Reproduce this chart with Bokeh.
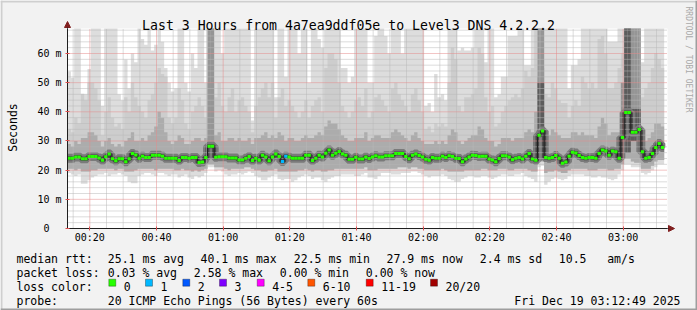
import numpy as np
from bokeh.plotting import figure
from bokeh.models import FixedTicker, Range1d, Label, Arrow, NormalHead, BoxAnnotation
from bokeh.embed import file_html
from bokeh.resources import INLINE

# ---------------- data (1-minute steps) ----------------
start_minute = 13.3          # first step starts at 00:13:18
median_ms = [24.1,24.1,24.5,24.5,23.9,23.9,24.7,24.7,24.7,24.2,
             23.4,24.6,25.5,23.9,23.2,23.9,23.9,22.9,23.9,25.7,
             25.2,24.1,24.8,24.3,24.3,25.1,25.1,25.1,24.8,24.1,
             24.1,24.1,24.1,23.3,24.3,24.3,24.1,24.3,24.3,22.6,
             22.8,24.3,28.2,28.2,24.4,24.6,24.6,24.6,24.2,24.2,
             24.2,23.5,23.5,24.1,24.7,23.3,24.1,23.4,25.1,24.5,
             23.2,24.5,25.5,24.7,23.0,24.8,24.5,24.1,24.1,24.1,
             24.1,25.1,25.1,23.3,24.1,25.1,24.5,25.8,26.9,25.1,
             25.8,26.4,25.5,25.1,23.7,23.7,24.4,23.8,23.8,24.5,
             24.0,24.5,24.9,24.5,24.5,24.9,24.9,24.9,25.7,25.7,
             25.7,24.7,23.9,25.1,25.5,25.0,24.5,23.7,23.4,24.3,
             24.1,24.1,24.8,24.3,24.9,24.7,24.1,24.0,22.9,23.8,
             24.5,25.1,25.0,24.7,24.8,24.8,23.8,23.5,22.9,24.0,
             24.9,24.9,24.5,23.6,24.1,24.3,23.8,24.8,25.7,23.8,
             23.4,32.0,33.4,24.3,24.1,24.3,25.0,24.1,22.4,22.8,
             24.8,26.1,25.9,25.0,24.3,24.1,24.3,24.3,24.1,25.7,
             26.9,26.6,25.1,26.6,26.3,24.1,31.2,39.8,39.8,33.0,
             33.0,33.9,26.3,24.1,24.3,25.7,27.8,29.1,27.8]
ping_max_ms = [53.8,51.7,69,69,46.2,46,54.7,69,69,69,
               42,69,69,69,69,46,44,57.9,48,60,
               57,69,65,63,69,61,63,69,64,55,
               50,47,48,69,69,50,47,60,55,69,
               69,50,69,69,69,69,60,69,69,69,
               69,69,69,69,69,37,69,69,69,69,
               69,69,45,69,69,52,69,69,69,60,
               69,69,50,69,69,65,62,69,69,69,
               69,69,55,55,50,52,69,69,69,69,
               50,50,66,69,69,66,60,69,69,69,
               60,69,69,69,69,69,69,42,43,40,
               53,45,46,44,69,69,69,61,62,61,
               61,62,69,69,69,57,69,69,45,46,
               52,52,66,66,66,69,69,56,56,69,
               69,69,69,69,69,69,69,69,69,69,
               48,56,56,58,69,69,69,69,69,69,
               69,69,64,64,64,69,69,69,69,69,
               69,69,57,69,69,69,69,69,69]
ping_p17_ms = [34,33,38,36,46,44,50,50,48,44,
               32,40,45,38,35,36,34,45,40,50,
               45,42,40,38,44,46,50,55,53,52,
               38,36,38,48,44,36,34,40,42,45,
               42,38,69,69,45,50,42,40,45,48,
               40,44,45,42,40,33,42,45,48,50,
               45,50,38,45,48,42,44,42,40,38,
               40,44,38,42,44,45,40,55,60,60,
               58,50,42,40,38,40,44,45,42,48,
               38,40,45,46,44,42,40,48,50,46,
               44,42,40,46,48,44,40,34,35,33,
               36,35,36,35,50,62,58,42,40,45,
               45,46,48,62,60,45,40,42,35,36,
               40,42,44,45,46,45,48,54,52,55,
               69,69,69,46,45,50,48,44,43,43,
               38,42,44,42,52,50,48,50,48,65,
               66,60,48,48,50,55,60,69,69,69,
               69,69,45,48,50,55,60,58,55]
ping_p14_ms = [29,28,30,29,31,31,33,33,32,30,
               28,30,31,29,28,29,28,30,31,33,
               30,30,31,30,32,33,35,40,38,33,
               30,29,30,32,31,29,29,30,31,31,
               30,31,50,50,32,33,30,30,31,31,
               30,31,30,30,31,29,31,31,32,33,
               31,32,31,33,32,30,31,31,30,30,
               31,32,31,31,32,33,32,35,37,36,
               36,34,32,31,30,30,31,31,31,33,
               30,31,32,32,31,31,31,33,34,33,
               32,31,30,32,33,31,30,29,29,29,
               30,29,30,29,32,34,33,30,29,30,
               31,32,32,35,34,31,30,30,28,29,
               31,31,31,30,31,31,31,33,34,33,
               40,52,55,33,32,34,33,32,31,31,
               31,33,33,32,33,32,32,32,31,35,
               38,36,32,33,33,33,40,69,69,50,
               50,48,32,30,31,33,36,36,35]
ping_min_ms = [19,18.5,18,18.5,15.3,15.3,16.5,17.5,18,18.5,
               18.5,19,18,18.5,18.5,19,18.5,18,16,15.5,
               15.5,18,18.5,19,19,18.5,18,19,19,18.5,
               18,18.5,18.5,17.5,18,18.5,17.5,17,18,17.5,
               18,19,21,21,19.5,20,19.5,18.5,18,18.5,
               18.5,19,18.5,19,19.5,19,18,17.5,16.5,16.5,
               17.5,18,18.5,17,16.5,17,17,16,16.5,17.5,
               18,18.5,18,17,17.5,17.5,16.5,16,17,17.5,
               18,18,18.5,18.5,18.5,18.5,18,18,18.5,19,
               17.5,17.5,17,18,19,19,19,18.5,18.5,18.5,
               19,19,19,19.5,19.5,19,18.5,18,17.5,18,
               18,18,18.5,18,17,16.5,16,16,17,17.5,
               18,18,17.5,17.5,18,18,17.5,17,17.5,18,
               18.5,18.5,18,18,18.5,18.5,19,18,17.5,17,
               16,21,21.5,15,16,17,17.5,17,16.5,17,
               18,18.5,18.5,18.5,18.5,18,18,17.5,17.5,18,
               17.5,17.5,17,16.5,17,18.5,20,22,22,21,
               21,21,19,18.5,19,20,21,22,22]
ping_p4_ms = [20.5,20.5,20,20.5,19.5,19.5,19.5,20,20,20.5,
              20.5,20.5,20.5,20.5,20,20.5,20.5,19.5,19.5,19.5,
              20,20.5,20.5,20.5,20.5,20.5,20,20.5,20.5,20.5,
              20.5,20.5,20,20,20.5,20,20,19.5,20,19.5,
              20,20.5,22,22,21,21,21,20.5,20,20.5,
              20.5,20.5,20.5,21,21,20.5,20,20,19.5,19.5,
              20,20,20.5,19.5,19.5,19.5,19.5,19.5,19.5,20,
              20,20.5,20,19.5,20,20,19.5,19.5,20,20,
              20.5,20.5,20.5,20.5,20.5,20.5,20.5,20.5,20.5,21,
              20,20,20,20.5,20.5,20.5,20.5,20.5,20.5,21,
              21,21,20.5,21,21,20.5,20.5,20,20,20,
              20,20,20.5,20,19.5,19.5,19.5,19.5,19.5,20,
              20,20,20,20,20.5,20.5,20,20,20,20.5,
              20.5,20.5,20,20,20.5,20.5,20.5,20.5,20,19.5,
              19.5,23,23,19,19.5,19.5,20,19.5,19,19,
              20,20.5,20.5,20.5,20.5,20.5,20,20,20,20.5,
              20.5,20.5,20,20,20.5,20.5,22,24,24,23,
              22.5,22.5,20.5,20.5,20.5,21.5,23,23.5,23.5]
# steps whose inner pings are spread wide (darker columns)
wide_steps = [42, 43, 141, 142, 166, 169, 170, 171]
wide_bottom_ms = [26, 26, 30, 31, 27, 30, 30, 30]
wide_top_ms = [69, 69, 69, 69, 50, 69, 69, 69]
dark_steps = [141, 142, 167, 168, 169, 170, 171]
dark_bottom_ms = [30, 31, 26, 26, 30, 30, 30]
dark_top_ms = [50, 50, 69, 69, 41, 41, 41]
lost_pings = [0,0,0,0,0,0,0,0,0,0, 0,0,0,0,0,0,0,0,0,0,
              0,0,0,0,0,0,0,0,0,0, 0,0,0,0,0,0,0,0,0,0,
              0,0,0,0,0,0,0,0,0,0, 0,0,0,0,0,0,0,0,0,0,
              0,0,0,0,1,1,0,0,0,0, 0,0,0,0,0,0,0,0,0,0,
              0,0,0,0,0,0,0,0,0,0, 0,0,0,0,0,0,0,0,0,0,
              0,0,0,0,0,0,0,0,0,0, 0,0,0,0,0,0,0,0,0,0,
              0,0,0,0,0,0,0,0,0,0, 0,0,0,0,0,0,0,0,0,0,
              0,0,0,0,0,0,0,0,0,0, 0,0,0,0,0,0,0,0,0,0,
              0,0,0,0,0,0,0,0,0,0, 0,0,0,0,0,0,0,0,0]
loss_labels = ["0", "1", "2", "3", "4-5", "6-10", "11-19", "20/20"]
loss_colors = ["#26ff00", "#00b8ff", "#0059ff", "#7e00ff", "#ff00ff", "#ff5500", "#ff0000", "#a10000"]
x_ticks = [20, 40, 60, 80, 100, 120, 140, 160, 180]
x_tick_labels = ["00:20", "00:40", "01:00", "01:20", "01:40", "02:00", "02:20", "02:40", "03:00"]
y_ticks = [0, 10, 20, 30, 40, 50, 60]
y_tick_labels = ["0\u00a0\u00a0", "10 m", "20 m", "30 m", "40 m", "50 m", "60 m"]
title_text = "Last 3 Hours from 4a7ea9ddf05e to Level3 DNS 4.2.2.2"

# ---------------- geometry ----------------
W, H = 697, 310
FL, FT, FW, FH = 67, 28, 600, 200          # data area inside the canvas
XMIN, XMAX = start_minute, start_minute + 180
YMIN, YMAX = 0, 68.57
MONO = "DejaVu Sans Mono"

def sx(px):
    return XMIN + (px - FL) * (XMAX - XMIN) / FW

def sy(py):
    return YMIN + (FT + FH - py) * (YMAX - YMIN) / FH

n = len(median_ms)
t0 = start_minute + np.arange(n)
t1 = t0 + 1
xs = np.append(t0, t1[-1])

def clip(a):
    return np.minimum(np.asarray(a, dtype=float), YMAX)

def ext(a):
    a = clip(a)
    return np.append(a, a[-1])

p = figure(width=W, height=H, output_backend="svg", toolbar_location=None,
           x_range=Range1d(sx(0), sx(W)), y_range=Range1d(sy(H), sy(0)), min_border=0)
p.background_fill_color = "#f2f2f2"
p.border_fill_color = "#f2f2f2"
p.outline_line_color = None
p.grid.visible = False

# canvas (white data area)
p.quad(left=[XMIN], right=[XMAX], bottom=[YMIN], top=[YMAX], fill_color="white", line_color=None)

# smoke
p.varea_step(x=xs, y1=ext(ping_min_ms), y2=ext(ping_max_ms), step_mode="after", fill_color="#dddddd")
p.varea_step(x=xs, y1=ext(ping_p4_ms), y2=ext(ping_p17_ms), step_mode="after", fill_color="#cdcdcd")
p.varea_step(x=xs, y1=ext(ping_p4_ms), y2=ext(ping_p14_ms), step_mode="after", fill_color="#acacac")
wide_left = start_minute + np.array(wide_steps)
p.quad(left=wide_left, right=wide_left + 1, bottom=wide_bottom_ms, top=clip(wide_top_ms),
       fill_color="#959595", line_color=None)
dark_left = start_minute + np.array(dark_steps)
p.quad(left=dark_left, right=dark_left + 1, bottom=dark_bottom_ms, top=clip(dark_top_ms),
       fill_color="#5c5c5c", line_color=None)
p.step(xs, ext(median_ms), mode="after", line_color="#7a7a7a", line_width=9)
p.step(xs, ext(median_ms), mode="after", line_color="#454545", line_width=4)

# grid (dotted, over the smoke)
minor_x = [m for m in range(15, 195, 5) if m % 20 and XMIN < m < XMAX]
minor_y = [v for v in range(2, 69, 2) if v % 10]
major_y = [v for v in y_ticks if v > 0]
p.segment(x0=minor_x, x1=minor_x, y0=YMIN, y1=YMAX, line_color="#b8b8b8", line_width=1, line_dash="1 1")
p.segment(x0=XMIN, x1=XMAX, y0=minor_y, y1=minor_y, line_color="#b8b8b8", line_width=1, line_dash="1 1")
p.segment(x0=x_ticks, x1=x_ticks, y0=YMIN, y1=YMAX, line_color="#e58a8a", line_width=1, line_dash="1 1")
p.segment(x0=XMIN, x1=XMAX, y0=major_y, y1=major_y, line_color="#e58a8a", line_width=1, line_dash="1 1")

# median line coloured by loss
p.step(xs, ext(median_ms), mode="after", line_color="#202020", line_width=1)
seg_colors = [loss_colors[k] for k in lost_pings]
p.segment(x0=t0, y0=median_ms, x1=t1, y1=median_ms, line_color=seg_colors, line_width=3)

# axes placed on the data area
p.xaxis.fixed_location = YMIN
p.xaxis.bounds = (XMIN, XMAX)
p.yaxis.fixed_location = XMIN
p.yaxis.bounds = (YMIN, YMAX)
p.xaxis.ticker = FixedTicker(ticks=x_ticks, minor_ticks=[])
p.xaxis.major_label_overrides = dict(zip(x_ticks, x_tick_labels))
p.yaxis.ticker = FixedTicker(ticks=y_ticks, minor_ticks=[])
p.yaxis.major_label_overrides = dict(zip(y_ticks, y_tick_labels))
for ax in (p.xaxis, p.yaxis):
    ax.axis_line_color = "#1f1f1f"
    ax.major_tick_line_color = "#de4f4f"
    ax.major_tick_in = 2
    ax.major_tick_out = 2
    ax.minor_tick_line_color = None
    ax.major_label_text_font = MONO
    ax.major_label_text_font_size = "10px"
    ax.major_label_text_color = "black"
p.xaxis.major_label_standoff = 1
p.yaxis.major_label_standoff = 4

# arrows
p.add_layout(Arrow(end=NormalHead(size=6, fill_color="#801f1f", line_color="#801f1f"),
                   x_start=XMAX, y_start=YMIN, x_end=sx(674), y_end=YMIN,
                   line_color="#1f1f1f", line_width=1))
p.add_layout(Arrow(end=NormalHead(size=6, fill_color="#801f1f", line_color="#801f1f"),
                   x_start=XMIN, y_start=YMAX, x_end=XMIN, y_end=sy(21),
                   line_color="#1f1f1f", line_width=1))

def label(px, py, text, size="11.5px", align="left", baseline="alphabetic", angle=0, color="black"):
    p.add_layout(Label(x=sx(px), y=sy(py), text=text, text_font=MONO, text_font_size=size,
                       text_align=align, text_baseline=baseline, angle=angle, text_color=color))

label(348, 24.5, title_text, size="13.2px", align="center")
label(12, 127, "Seconds", align="center", baseline="middle", angle=np.pi / 2)
label(688, 59, "RRDTOOL / TOBI OETIKER", size="8px", align="center", baseline="middle",
      angle=-np.pi / 2, color="#a9a9a9")

row1 = [(16, "median rtt:"), (107.3, "25.1 ms avg"), (200, "40.1 ms max"), (293.3, "22.5 ms min"),
        (386, "27.9 ms now"), (479.3, "2.4 ms sd"), (558.3, "10.5"), (606.7, "am/s")]
row2 = [(16, "packet loss:"), (107.3, "0.03 % avg"), (193.3, "2.58 % max"), (279.3, "0.00 % min"),
        (365.3, "0.00 % now")]
for px, txt in row1:
    label(px, 258, txt)
for px, txt in row2:
    label(px, 272, txt)
label(16, 286, "loss color:")
swatch_x = [108.3, 145, 182.3, 219, 256.7, 307.3, 365.7, 430]
for sxp, txt, col in zip(swatch_x, loss_labels, loss_colors):
    p.add_layout(BoxAnnotation(left=sx(sxp), right=sx(sxp + 7), bottom=sy(285.7), top=sy(278.7),
                               fill_color=col, fill_alpha=1, line_color="black", line_width=1))
    label(sxp + 15, 286, txt)
label(16, 300, "probe:")
label(107.3, 300, "20 ICMP Echo Pings (56 Bytes) every 60s")
label(680, 300, "Fri Dec 19 03:12:49 2025", align="right")

# 3D border
for l, r, b, t, c in [(0, 697, 2, 0, "#cfcfcf"), (0, 2, 310, 0, "#cfcfcf"),
                      (0, 697, 310, 308, "#9e9e9e"), (695, 697, 310, 0, "#9e9e9e")]:
    p.add_layout(BoxAnnotation(left=sx(l), right=sx(r), bottom=sy(b), top=sy(t),
                               fill_color=c, fill_alpha=1, line_color=None))

open("out.html", "w").write(file_html(p, INLINE))
